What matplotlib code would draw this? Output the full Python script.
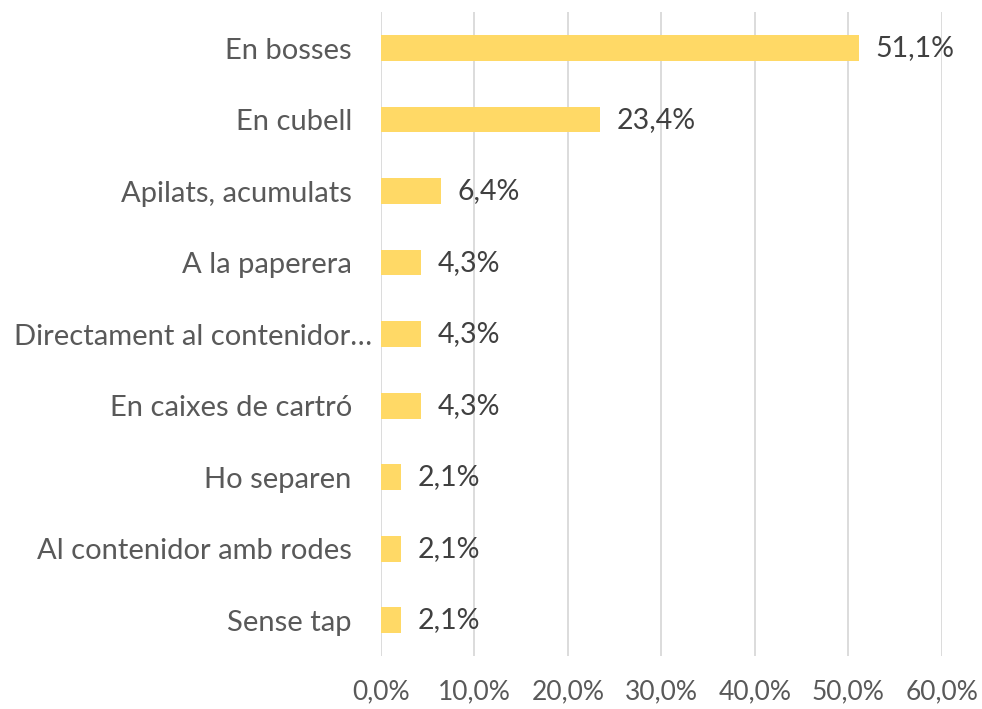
import matplotlib.pyplot as plt
from matplotlib.ticker import FuncFormatter
from matplotlib.transforms import ScaledTranslation

categories = ['En bosses', 'En cubell', 'Apilats, acumulats', 'A la paperera',
              'Directament al contenidor…', 'En caixes de cartró', 'Ho separen',
              'Al contenidor amb rodes', 'Sense tap']
values = [51.1, 23.4, 6.4, 4.3, 4.3, 4.3, 2.1, 2.1, 2.1]

plt.rcParams['font.family'] = ['Lato', 'DejaVu Sans']
text_color = '#595959'

fig = plt.figure(figsize=(9.82, 7.09), dpi=100)
ax = fig.add_axes([0.388, 0.0747, 0.571, 0.908])

pos = list(range(len(categories)))
ax.barh(pos, values, height=0.36, color='#FFD966', zorder=3)

for p, v in zip(pos, values):
    ax.text(v + 1.8, p, f'{v:.1f}%'.replace('.', ','), va='center', ha='left',
            fontsize=20.5, color='#404040', zorder=4)

ax.set_xlim(0, 60)
ax.set_ylim(len(categories) - 0.5, -0.5)
ax.set_yticks(pos)
ax.set_yticklabels(categories)
ax.set_xticks(range(0, 61, 10))
ax.xaxis.set_major_formatter(FuncFormatter(lambda x, _: f'{x:.1f}%'.replace('.', ',')))

ax.grid(axis='x', color='#D9D9D9', linewidth=1.3, zorder=0)
for s in ax.spines.values():
    s.set_visible(False)
ax.tick_params(axis='y', length=0, labelsize=21, labelcolor=text_color, pad=21)
ax.tick_params(axis='x', length=0, labelsize=19, labelcolor=text_color, pad=17)

# the truncated label sits a bit further right, as in the original
long_lbl = ax.get_yticklabels()[4]
long_lbl.set_transform(long_lbl.get_transform() + ScaledTranslation(20 / 100, 0, fig.dpi_scale_trans))

plt.savefig('out.png', dpi=100)
